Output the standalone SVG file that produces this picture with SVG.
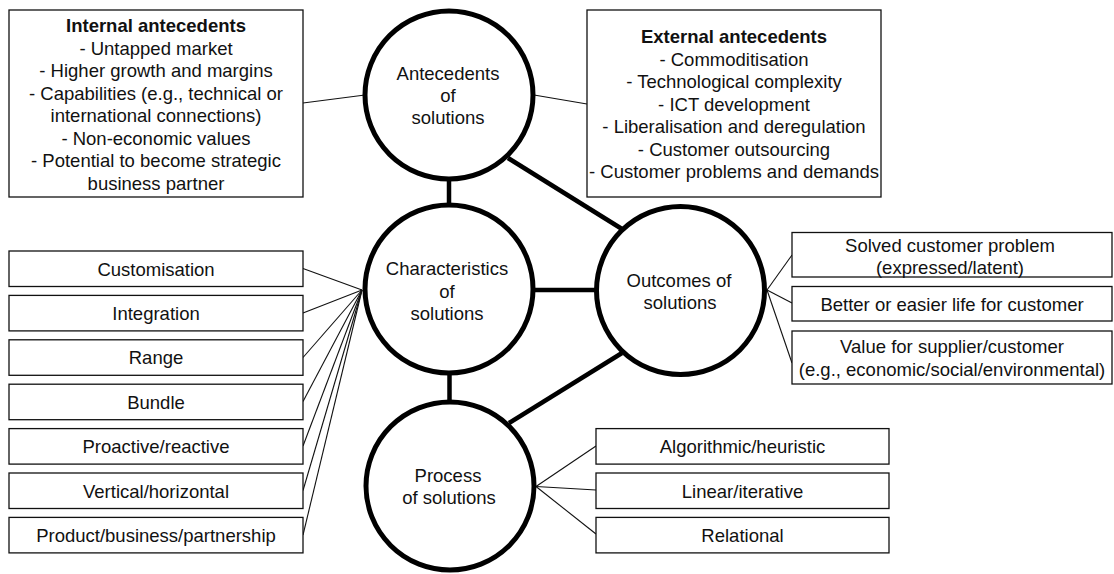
<svg xmlns="http://www.w3.org/2000/svg" width="1114" height="574" viewBox="0 0 1114 574">
<style>
text{font-family:"Liberation Sans",Arial,sans-serif;font-size:18.5px;fill:#111;text-anchor:middle}
.b{font-weight:bold}
.box{fill:#fff;stroke:#111;stroke-width:1.3}
.circ{fill:#fff;stroke:#000;stroke-width:5}
.thick{stroke:#000;stroke-width:4.5;fill:none}
.thin{stroke:#111;stroke-width:1.1;fill:none}
</style>
<rect width="1114" height="574" fill="#fff"/>
<g id="connectors">
<line class="thick" x1="449" y1="178" x2="449" y2="206"/>
<line class="thick" x1="449.5" y1="372" x2="449.5" y2="403"/>
<line class="thick" x1="532" y1="290" x2="597" y2="290"/>
<line class="thick" x1="508" y1="158" x2="622" y2="229"/>
<line class="thick" x1="509" y1="423" x2="622" y2="353"/>
<line class="thin" x1="303" y1="103" x2="365" y2="95"/>
<line class="thin" x1="534" y1="95" x2="587" y2="104"/>
<line class="thin" x1="362" y1="290" x2="303" y2="268.5"/>
<line class="thin" x1="362" y1="290" x2="303" y2="313"/>
<line class="thin" x1="362" y1="290" x2="303" y2="357.5"/>
<line class="thin" x1="362" y1="290" x2="303" y2="401.5"/>
<line class="thin" x1="362" y1="290" x2="303" y2="446"/>
<line class="thin" x1="362" y1="290" x2="303" y2="490.5"/>
<line class="thin" x1="362" y1="290" x2="303" y2="535"/>
<line class="thin" x1="767" y1="290" x2="792" y2="255"/>
<line class="thin" x1="767" y1="290" x2="792" y2="303"/>
<line class="thin" x1="767" y1="290" x2="792" y2="363"/>
<line class="thin" x1="536" y1="486.5" x2="596" y2="446"/>
<line class="thin" x1="536" y1="486.5" x2="596" y2="490"/>
<line class="thin" x1="536" y1="486.5" x2="596" y2="534"/>
</g>
<g id="internal">
<rect class="box" x="9" y="10" width="294" height="187"/>
<text x="156" y="32" class="b">Internal antecedents</text>
<text x="156" y="54.5">- Untapped market</text>
<text x="156" y="77">- Higher growth and margins</text>
<text x="156" y="99.5">- Capabilities (e.g., technical or</text>
<text x="156" y="122">international connections)</text>
<text x="156" y="144.5">- Non-economic values</text>
<text x="156" y="167">- Potential to become strategic</text>
<text x="156" y="189.5">business partner</text>
</g>
<g id="external">
<rect class="box" x="587" y="10" width="294" height="187"/>
<text x="734" y="43" class="b">External antecedents</text>
<text x="734" y="65.5">- Commoditisation</text>
<text x="734" y="88">- Technological complexity</text>
<text x="734" y="110.5">- ICT development</text>
<text x="734" y="133">- Liberalisation and deregulation</text>
<text x="734" y="155.5">- Customer outsourcing</text>
<text x="734" y="178">- Customer problems and demands</text>
</g>
<g id="antecedents">
<circle class="circ" cx="449" cy="95" r="84"/>
<text x="448" y="80">Antecedents</text>
<text x="448" y="102">of</text>
<text x="448" y="124">solutions</text>
</g>
<g id="characteristics">
<circle class="circ" cx="449" cy="289" r="84"/>
<text x="447" y="275">Characteristics</text>
<text x="447" y="297.5">of</text>
<text x="447" y="319.5">solutions</text>
</g>
<g id="outcomes">
<circle class="circ" cx="680.5" cy="290.5" r="84"/>
<text x="679" y="287">Outcomes of</text>
<text x="680" y="309">solutions</text>
</g>
<g id="process">
<circle class="circ" cx="450" cy="486" r="84"/>
<text x="448" y="482">Process</text>
<text x="449" y="503.5">of solutions</text>
</g>
<g id="customisation"><rect class="box" x="9" y="251" width="294" height="35.5"/><text x="156" y="275.5">Customisation</text></g>
<g id="integration"><rect class="box" x="9" y="295.4" width="294" height="35.5"/><text x="156" y="319.9">Integration</text></g>
<g id="range"><rect class="box" x="9" y="339.8" width="294" height="35.5"/><text x="156" y="364.3">Range</text></g>
<g id="bundle"><rect class="box" x="9" y="384.2" width="294" height="35.5"/><text x="156" y="408.7">Bundle</text></g>
<g id="proactive"><rect class="box" x="9" y="428.6" width="294" height="35.5"/><text x="156" y="453.1">Proactive/reactive</text></g>
<g id="vertical"><rect class="box" x="9" y="473" width="294" height="35.5"/><text x="156" y="497.5">Vertical/horizontal</text></g>
<g id="product"><rect class="box" x="9" y="517.4" width="294" height="35.5"/><text x="156" y="541.9">Product/business/partnership</text></g>
<g id="solved"><rect class="box" x="792" y="232.5" width="320" height="44.5"/><text x="950" y="252">Solved customer problem</text><text x="950" y="274">(expressed/latent)</text></g>
<g id="better"><rect class="box" x="792" y="286.5" width="320" height="34.5"/><text x="952" y="310.5">Better or easier life for customer</text></g>
<g id="value"><rect class="box" x="792" y="331" width="320" height="53"/><text x="952" y="353">Value for supplier/customer</text><text x="952" y="375.5">(e.g., economic/social/environmental)</text></g>
<g id="algorithmic"><rect class="box" x="596" y="428.6" width="293" height="35.5"/><text x="742.5" y="453.1">Algorithmic/heuristic</text></g>
<g id="linear"><rect class="box" x="596" y="473" width="293" height="35.5"/><text x="742.5" y="497.5">Linear/iterative</text></g>
<g id="relational"><rect class="box" x="596" y="517.4" width="293" height="35.5"/><text x="742.5" y="541.9">Relational</text></g>
</svg>
